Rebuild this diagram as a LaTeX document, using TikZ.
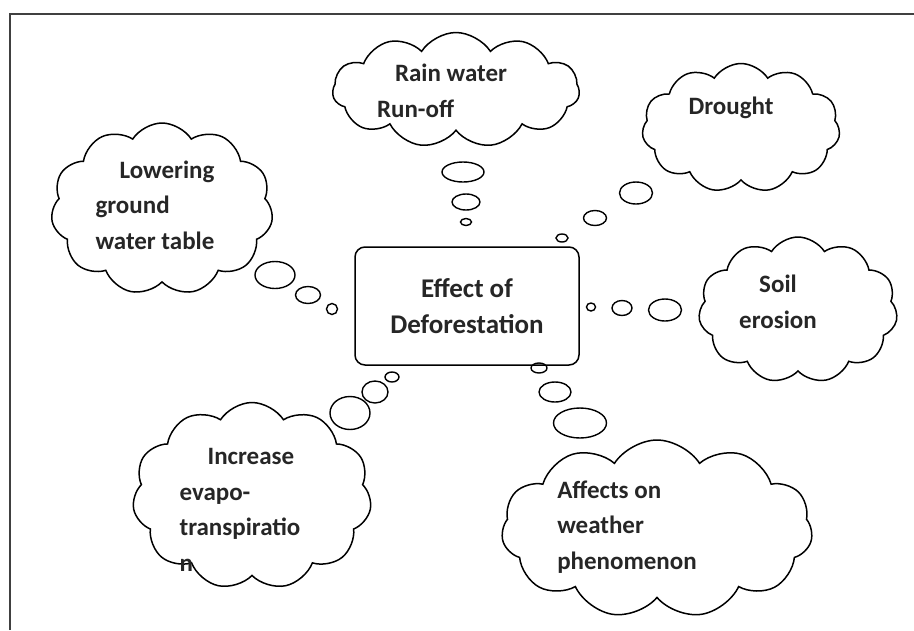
\documentclass[tikz,border=0pt]{standalone}
\usepackage{fontspec}
\setmainfont{Carlito}
\usetikzlibrary{shapes.symbols,shapes.geometric}

\begin{document}
\begin{tikzpicture}[x=1pt, y=-1pt]
    \tikzstyle{thought} = [cloud, draw, line width=1.5pt, cloud puffs=11, cloud puff arc=115, inner sep=0pt]
    \tikzstyle{bubble} = [ellipse, draw, line width=1.4pt, inner sep=0pt]
    \tikzstyle{txt} = [font=\fontsize{25}{35.5}\selectfont\bfseries, text=black!85, inner sep=0pt]

    \useasboundingbox (0,0) rectangle (914,630);

    % Frame
    \draw[line width=1.6pt, black!75] (10,630) -- (10,14) -- (914,14);

    % Centre box
    \node[draw, line width=1.5pt, rounded corners=10pt, minimum width=224, minimum height=118, txt, font=\fontsize{27}{36}\selectfont\bfseries, align=center] (effect) at (467,306) {Effect of\\Deforestation};

    % Clouds
    \node[thought, minimum width=247, minimum height=115] (rain) at (456,90) {};
    \node[thought, minimum width=198, minimum height=129] (drought) at (741,128) {};
    \node[thought, minimum width=222, minimum height=172] (lower) at (162,209) {};
    \node[thought, minimum width=199, minimum height=146] (soil) at (798,310) {};
    \node[thought, minimum width=239, minimum height=187] (incr) at (252,496) {};
    \node[thought, minimum width=311, minimum height=178] (affect) at (657,529) {};

    % Cloud texts
    \node[txt, align=left] (raintxt) at (442,91) {\hspace{18pt}Rain water\\Run-off};
    \node[txt] (droughttxt) at (731,108) {Drought};
    \node[txt, align=left] (lowertxt) at (155,205) {\hspace{24pt}Lowering\\ground\\water table};
    \node[txt, align=center] (soiltxt) at (778,302) {Soil\\erosion};
    \node[txt, align=left] (incrtxt) at (240,510) {\hspace{28pt}Increase\\evapo-\\transpiratio\\n};
    \node[txt, align=left] (affecttxt) at (627,527) {Affects on\\weather\\phenomenon};

    % Bubbles towards the box
    \foreach \n/\x/\y/\w/\h in {r1/463/172/42/20, r2/466/202/28/16, r3/466/222/11/7,
                                d1/636/193/33/22, d2/595/218/23/15, d3/562/238/12/8,
                                l1/275/275/40/27, l2/308/295/25/17, l3/332/309/11/11,
                                s1/665/310/33/22, s2/622/308/20/15, s3/591/307/9/8,
                                i1/350/413/40/33, i2/375/392/26/22, i3/392/377/14/10,
                                a1/580/423/53/30, a2/555/392/32/20, a3/539/368/16/10} {
        \node[bubble, minimum width=\w, minimum height=\h] (bub-\n) at (\x,\y) {};
    }
\end{tikzpicture}
\end{document}
